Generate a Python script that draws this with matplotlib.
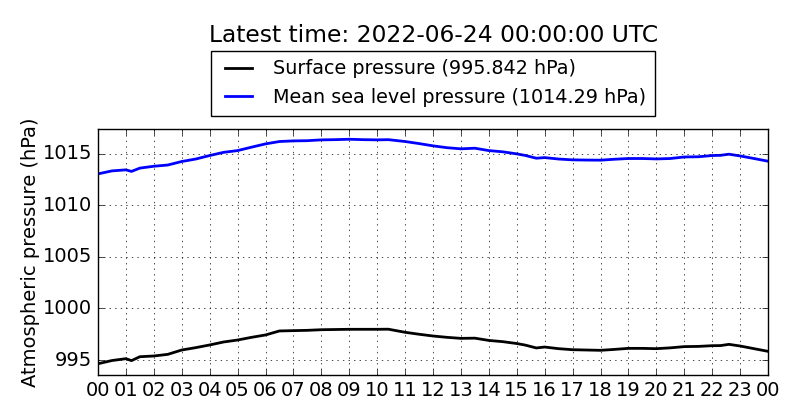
import matplotlib
matplotlib.use('Agg')
import matplotlib.pyplot as plt

# hours since 2022-06-23 00:00 UTC
hours = [0, 0.5, 1, 1.2, 1.5, 2, 2.5, 3, 3.5, 4, 4.5, 5, 5.5, 6, 6.5, 7, 7.5, 8, 8.5, 9,
         9.5, 10, 10.4, 11, 11.5, 12, 12.5, 13, 13.5, 14, 14.5, 15, 15.3, 15.7, 16, 16.5,
         17, 17.5, 18, 18.5, 19, 19.5, 20, 20.5, 21, 21.5, 22, 22.3, 22.6, 23, 23.5, 24]
msl = [1013.06, 1013.35, 1013.45, 1013.3, 1013.62, 1013.8, 1013.92, 1014.26, 1014.5, 1014.84,
       1015.15, 1015.32, 1015.65, 1015.97, 1016.2, 1016.26, 1016.28, 1016.36, 1016.38, 1016.42,
       1016.38, 1016.36, 1016.38, 1016.2, 1016.0, 1015.78, 1015.6, 1015.49, 1015.55, 1015.32,
       1015.2, 1015.0, 1014.85, 1014.58, 1014.64, 1014.5, 1014.42, 1014.4, 1014.39, 1014.48,
       1014.55, 1014.55, 1014.51, 1014.55, 1014.7, 1014.72, 1014.84, 1014.86, 1014.97, 1014.8,
       1014.55, 1014.29]
surface = [994.64, 994.95, 995.13, 994.94, 995.32, 995.39, 995.55, 995.97, 996.2, 996.46,
           996.75, 996.94, 997.2, 997.43, 997.82, 997.85, 997.88, 997.94, 997.96, 997.98,
           997.98, 997.98, 997.99, 997.69, 997.5, 997.33, 997.2, 997.1, 997.12, 996.9,
           996.78, 996.6, 996.45, 996.17, 996.26, 996.1, 996.0, 995.97, 995.94, 996.03,
           996.13, 996.13, 996.1, 996.18, 996.3, 996.32, 996.39, 996.4, 996.52, 996.36,
           996.1, 995.842]

tick_hours = list(range(25))
tick_labels = ['%02d' % (h % 24) for h in tick_hours]

plt.style.use('classic')
fig = plt.figure(figsize=(8, 4.2), dpi=100)
fig.patch.set_facecolor('white')
ax = fig.add_axes([0.1225, 0.107, 0.8375, 0.586])

ax.plot(hours, surface, color='black', lw=2,
        label='Surface pressure (%.3f hPa)' % surface[-1])
ax.plot(hours, msl, color='blue', lw=2,
        label='Mean sea level pressure (%.2f hPa)' % msl[-1])

ax.set_xlim(0, 24)
ax.set_ylim(min(surface) - 1.1, max(msl) + 1.0)
ax.set_xticks(tick_hours)
ax.set_xticklabels(tick_labels)
ax.set_yticks([995, 1000, 1005, 1010, 1015])
ax.ticklabel_format(axis='y', useOffset=False, style='plain')
ax.tick_params(labelsize=14)
ax.grid(True)
ax.set_ylabel('Atmospheric pressure (hPa)', fontsize=14, labelpad=2)

ax.legend(loc='lower center', bbox_to_anchor=(0.5, 1.0), fontsize=13.8,
          borderaxespad=0.7, handlelength=2.0, borderpad=0.45)
fig.text(0.5415, 0.915, 'Latest time: 2022-06-24 00:00:00 UTC', ha='center',
         va='center', fontsize=16.8)

fig.savefig('out.png', dpi=100, facecolor='white')
